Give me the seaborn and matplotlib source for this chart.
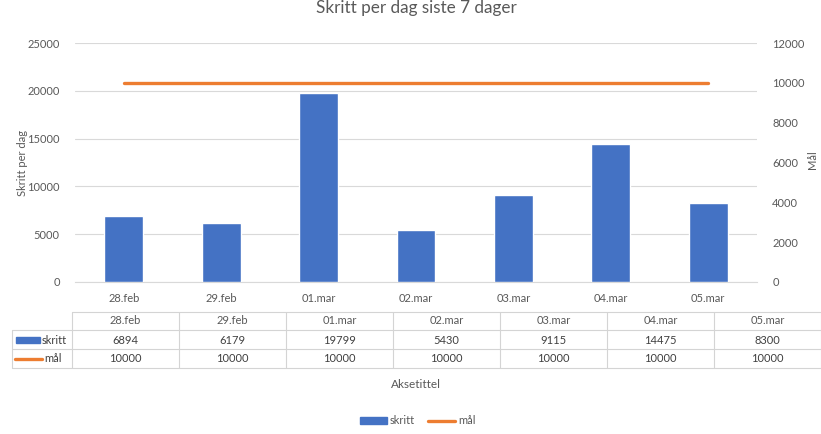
import matplotlib
matplotlib.use("Agg")
import matplotlib.pyplot as plt
import seaborn as sns
import pandas as pd
from matplotlib.lines import Line2D
from matplotlib.patches import Patch, Rectangle

# ---- data ----
dates = ["28.feb", "29.feb", "01.mar", "02.mar", "03.mar", "04.mar", "05.mar"]
skritt = [6894, 6179, 19799, 5430, 9115, 14475, 8300]
maal = [10000, 10000, 10000, 10000, 10000, 10000, 10000]
left_ticks = [0, 5000, 10000, 15000, 20000, 25000]
right_ticks = [0, 2000, 4000, 6000, 8000, 10000, 12000]
series_names = ["skritt", "mål"]
title = "Skritt per dag siste 7 dager"
left_label = "Skritt per dag"
right_label = "Mål"
x_label = "Aksetittel"

BLUE = "#4472C4"
ORANGE = "#ED7D31"
GREY = "#595959"
GRID = "#D9D9D9"

sns.set_theme(style="white")
plt.rcParams["font.family"] = ["Lato", "DejaVu Sans"]

W, H = 821, 434
fig = plt.figure(figsize=(W / 100, H / 100), dpi=100)

L, R, T, B = 75, 757, 43, 282
ax = fig.add_axes([L / W, 1 - B / H, (R - L) / W, (B - T) / H])

df = pd.DataFrame({"dato": dates, "skritt": skritt, "mål": maal})
sns.barplot(data=df, x="dato", y="skritt", color=BLUE, saturation=1,
            width=0.4, ax=ax, zorder=3)
ax.set_xlim(-0.5, len(dates) - 0.5)
ax.set_ylim(left_ticks[0], left_ticks[-1])
ax.set_yticks(left_ticks)
ax.set_yticklabels([str(v) for v in left_ticks])
ax.yaxis.grid(True, color=GRID, linewidth=0.8, zorder=0)
ax.set_axisbelow(True)
for s in ["top", "left", "right"]:
    ax.spines[s].set_visible(False)
ax.spines["bottom"].set_color(GRID)
ax.spines["bottom"].set_linewidth(0.8)
ax.tick_params(axis="y", length=0, pad=11, labelsize=8, labelcolor=GREY)
ax.tick_params(axis="x", which="major", length=0, pad=8, labelsize=8, labelcolor=GREY)
ax.set_xticks([i - 0.5 for i in range(len(dates) + 1)], minor=True)
ax.tick_params(axis="x", which="minor", length=5, color=GRID, width=0.8)

ax.set_ylabel(left_label, fontsize=8, color=GREY, va="center")
ax.yaxis.set_label_coords((23 - L) / (R - L), (B - 163) / (B - T))
ax.set_xlabel(x_label, fontsize=8.5, color=GREY, va="center")
ax.xaxis.set_label_coords(0.5, (B - 385) / (B - T))
ax.set_title(title, fontsize=12.3, color=GREY, y=(B - 16) / (B - T), va="center")

ax2 = ax.twinx()
sns.lineplot(data=df, x="dato", y="mål", color=ORANGE, linewidth=2.4, ax=ax2,
             sort=False, zorder=4)
ax2.set_ylim(right_ticks[0], right_ticks[-1])
ax2.set_yticks(right_ticks)
ax2.set_yticklabels([str(v) for v in right_ticks])
ax2.tick_params(axis="y", length=0, pad=11, labelsize=8, labelcolor=GREY)
for s in ["top", "left", "right", "bottom"]:
    ax2.spines[s].set_visible(False)
ax2.grid(False)
ax2.set_ylabel(right_label, fontsize=8, color=GREY, va="center")
ax2.yaxis.set_label_coords((812 - L) / (R - L), (B - 160) / (B - T))
ax2.set_xlabel("")

# ---- data table (pixel coordinates) ----
axt = fig.add_axes([0, 0, 1, 1], zorder=-1)
axt.set_xlim(0, W)
axt.set_ylim(H, 0)
axt.axis("off")
tcol = "#D4D4D4"
col0, x0, cw = 12, 72, 107
rows_y = [312, 330, 349, 368]
axt.plot([x0, W], [rows_y[0]] * 2, color=tcol, lw=0.8)
for y in rows_y[1:]:
    axt.plot([col0, W], [y, y], color=tcol, lw=0.8)
axt.plot([col0, col0], [rows_y[1], rows_y[3]], color=tcol, lw=0.8)
for i in range(len(dates) + 1):
    xx = min(x0 + cw * i, W - 0.5)
    axt.plot([xx, xx], [rows_y[0], rows_y[3]], color=tcol, lw=0.8)
fs = 8
for i, d in enumerate(dates):
    cx = x0 + cw * (i + 0.5)
    axt.text(cx, 321, d, ha="center", va="center", fontsize=fs, color=GREY)
    axt.text(cx, 340, str(skritt[i]), ha="center", va="center", fontsize=fs, color="#404040")
    axt.text(cx, 359, str(maal[i]), ha="center", va="center", fontsize=fs, color="#404040")
axt.add_patch(Rectangle((16, 337), 24, 6, color=BLUE))
axt.text(42, 340, series_names[0], ha="left", va="center", fontsize=fs, color="#404040")
axt.plot([15, 42], [359, 359], color=ORANGE, lw=2.4)
axt.text(44, 359, series_names[1], ha="left", va="center", fontsize=fs, color="#404040")

# ---- legend ----
handles = [Patch(color=BLUE), Line2D([0], [0], color=ORANGE, lw=2.4)]
fig.legend(handles, series_names, loc="center", bbox_to_anchor=(418 / W, 1 - 421 / H),
           ncol=2, frameon=False, fontsize=8, labelcolor=GREY, handlelength=2.4,
           handleheight=0.5, handletextpad=0.3, columnspacing=1.2)

fig.savefig("out.png", dpi=100)
